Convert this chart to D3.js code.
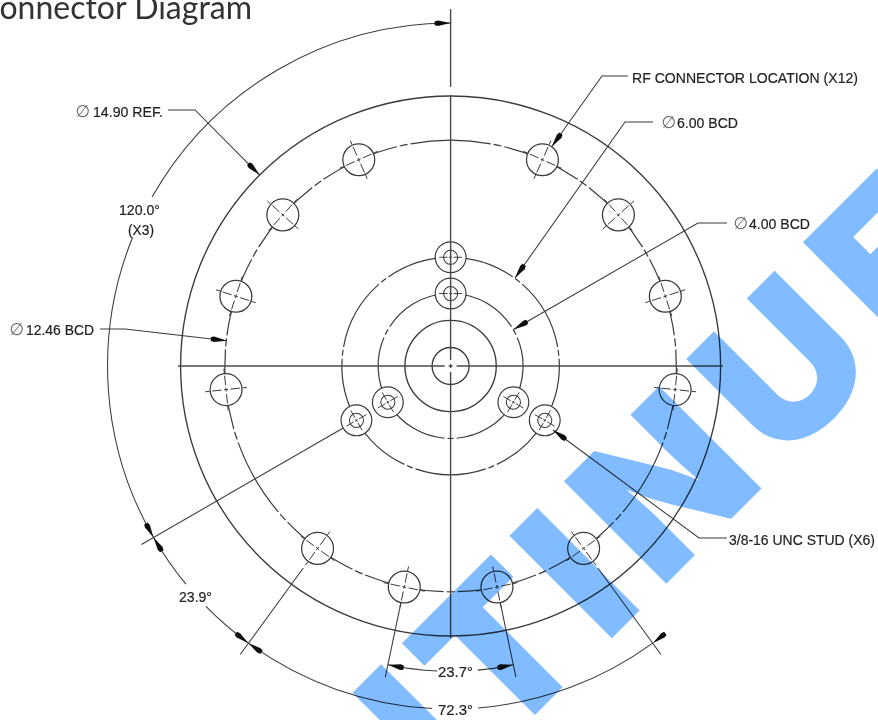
<!DOCTYPE html>
<html><head><meta charset="utf-8">
<script src="https://cdn.jsdelivr.net/npm/d3@7"></script>
<style>
html,body{margin:0;padding:0;background:#fff;overflow:hidden}
svg{display:block}
</style></head><body>
<svg id="c" width="878" height="720" viewBox="0 0 878 720"></svg>
<script>
// ---- values (inches / degrees clockwise from 12 o'clock)
const flangeDiameters = [14.90, 2.52, 1.02];       // solid circles
const boltCircleDiameters = [12.46, 6.00, 4.00];   // chain-line circles
const rfAngles = [24,48,72,96,143.9,168.15,-168.15,-143.9,-96,-72,-48,-24];
const studAngles = [0,120,240];
const studCircleDiameters = [6.00,4.00];
const rfDiameter = 0.88, studOuterDiameter = 0.85, studInnerDiameter = 0.39;
const chainBreaks12 = [12,36,60,84,108,132,156,180,204,228,252,276,300,324,348];
const chainBreaks6 = [38,83,158,202,277,322];
const chainBreaks4 = [62,180,298];
const dimensionRingDiameters = [18.93,16.85];
const titleText = "Connector Diagram";
const watermarkText = "DISCONTINUED";
const phi = "\u2205";
const labelRF = "RF CONNECTOR LOCATION (X12)";
const label6 = "6.00 BCD", label4 = "4.00 BCD", label12 = "12.46 BCD", labelRef = "14.90 REF.";
const labelStud = "3/8-16 UNC STUD (X6)";
const label120 = "120.0\u00B0", labelX3 = "(X3)", label239 = "23.9\u00B0", label237 = "23.7\u00B0", label723 = "72.3\u00B0";

// ---- scales
const cx = 450.6, cy = 366;
const rScale = d3.scaleLinear().domain([0,14.9]).range([0,270]);   // diameter -> px radius
const aScale = d3.scaleLinear().domain([0,360]).range([0,2*Math.PI]);
const pt = (deg,r) => [cx + r*Math.sin(aScale(deg)), cy - r*Math.cos(aScale(deg))];
const ink = "#3a3a3a";
const svg = d3.select("#c");
const defs = svg.append("defs");
defs.append("filter").attr("id","soft")
  .attr("filterUnits","userSpaceOnUse").attr("x",0).attr("y",0).attr("width",878).attr("height",720)
  .append("feGaussianBlur").attr("stdDeviation",0.4);
const art = svg.append("g").attr("filter","url(#soft)")
  .attr("fill","none").attr("stroke",ink).attr("stroke-width",1.2);

const line = d3.line();
const seg = (g,a,b,w) => g.append("path").attr("d",line([a,b])).attr("stroke-width",w||null);
function arcPath(r,a0,a1){
  const p = d3.path();
  const off = -Math.PI/2;
  p.arc(cx,cy,r,aScale(a0)+off,aScale(a1)+off,a1<a0);
  return p.toString();
}
function arrow(g,tip,towards,len=16,hw=2.8){
  const dx=towards[0]-tip[0], dy=towards[1]-tip[1], n=Math.hypot(dx,dy), ux=dx/n, uy=dy/n;
  const b=[tip[0]+ux*len,tip[1]+uy*len], m=[tip[0]+ux*len*.8,tip[1]+uy*len*.8];
  g.append("path").attr("fill","#111").attr("stroke","none").attr("d",line([
    tip,[m[0]-uy*hw,m[1]+ux*hw],[b[0]-uy*hw*.7,b[1]+ux*hw*.7],[b[0]+uy*hw*.7,b[1]-ux*hw*.7],[m[0]+uy*hw,m[1]-ux*hw]
  ])+"Z");
}

// ---- solid circles
art.selectAll("circle.f").data(flangeDiameters).join("circle").attr("class","f")
  .attr("cx",cx).attr("cy",cy).attr("r",d=>rScale(d)).attr("stroke-width",1.35);

// ---- chain-line bolt circles
function chain(diam,breaks,shortPx,gapPx){
  const r=rScale(diam), dShort=shortPx/2/r*180/Math.PI, dGap=gapPx/r*180/Math.PI;
  const s=[...breaks].sort((a,b)=>a-b);
  s.forEach((a,i)=>{
    const next=i<s.length-1?s[i+1]:s[0]+360;
    art.append("path").attr("d",arcPath(r,a-dShort,a+dShort));
    art.append("path").attr("d",arcPath(r,a+dShort+dGap,next-dShort-dGap));
  });
}
chain(boltCircleDiameters[0],chainBreaks12,8,3);
chain(boltCircleDiameters[1],chainBreaks6,6,3);
chain(boltCircleDiameters[2],chainBreaks4,6,3);

// ---- RF holes
const rfR=rScale(rfDiameter), bcd12=rScale(boltCircleDiameters[0]);
rfAngles.forEach(a=>{
  const c=pt(a,bcd12), g=art.append("g");
  g.append("circle").attr("cx",c[0]).attr("cy",c[1]).attr("r",rfR).attr("fill","#fff").attr("stroke-width",1.25);
  const t=aScale(a);
  [[Math.sin(t),-Math.cos(t)],[Math.cos(t),Math.sin(t)]].forEach(([ux,uy])=>{
    [1,-1].forEach(s=>{
      seg(g,[c[0]+s*ux*4.5,c[1]+s*uy*4.5],[c[0]+s*ux*(rfR-2),c[1]+s*uy*(rfR-2)],1);
      seg(g,[c[0]+s*ux*(rfR+.5),c[1]+s*uy*(rfR+.5)],[c[0]+s*ux*(rfR+5),c[1]+s*uy*(rfR+5)],1);
    });
    seg(g,[c[0]-ux*2,c[1]-uy*2],[c[0]+ux*2,c[1]+uy*2],1);
  });
});

// ---- studs
studCircleDiameters.forEach(d=>studAngles.forEach(a=>{
  const c=pt(a,rScale(d)), g=art.append("g");
  g.append("circle").attr("cx",c[0]).attr("cy",c[1]).attr("r",rScale(studOuterDiameter)).attr("fill","#fff");
  g.append("circle").attr("cx",c[0]).attr("cy",c[1]).attr("r",rScale(studInnerDiameter)).attr("stroke-width",1.05);
  const t=aScale(a);
  [[Math.sin(t),-Math.cos(t)],[Math.cos(t),Math.sin(t)]].forEach(([ux,uy])=>{
    [1,-1].forEach(s=>seg(g,[c[0]+s*ux*3,c[1]+s*uy*3],[c[0]+s*ux*11.5,c[1]+s*uy*11.5],.95));
    seg(g,[c[0]-ux*1.6,c[1]-uy*1.6],[c[0]+ux*1.6,c[1]+uy*1.6],.95);
  });
}));

// ---- centre lines
const cl = art.append("g").attr("stroke","#4a4a4a").attr("stroke-width",1.4);
seg(cl,[cx,9],[cx,87]); seg(cl,[cx,95],[cx,cy-6]); seg(cl,[cx,cy+6],[cx,638]);
seg(cl,[178,cy],[cx-6,cy]); seg(cl,[cx+6,cy],[723,cy]);
seg(cl,[cx-2,cy],[cx+2,cy]); seg(cl,[cx,cy-2],[cx,cy+2]);

// ---- extension lines
const rOut=rScale(dimensionRingDiameters[0]), rIn=rScale(dimensionRingDiameters[1]);
const ext = art.append("g").attr("stroke-width",1.05);
seg(ext,pt(240,124),pt(240,357));
seg(ext,pt(-143.9,250),pt(-143.9,357));
seg(ext,pt(143.9,250),pt(143.9,357));
seg(ext,pt(-168.15,242),pt(-168.15,318));
seg(ext,pt(168.15,242),pt(168.15,318));

// ---- dimension arcs
const da = art.append("g").attr("stroke-width",1.05);
[[0,-60.5],[-68,-120],[-120,-129.5],[-134.5,-143.9],[143.9,175.4],[183.1,216.1]]
  .forEach(([a,b])=>da.append("path").attr("d",arcPath(rOut,a,b)));
[[168.15,174.9],[182.5,191.85]].forEach(([a,b])=>da.append("path").attr("d",arcPath(rIn,a,b)));
const arcArrow=(r,a,dir)=>arrow(art,pt(a,r),pt(a+dir*3,r));
arcArrow(rOut,0,-1); arcArrow(rOut,-120,1); arcArrow(rOut,-120,-1);
arcArrow(rOut,-143.9,1); arcArrow(rOut,-143.9,-1); arcArrow(rOut,143.9,-1);
arcArrow(rIn,168.15,1); arcArrow(rIn,-168.15,-1);

// ---- leaders
function leader(points){
  art.append("path").attr("d",line(points)).attr("stroke-width",1.05);
  const n=points.length;
  arrow(art,points[n-1],points[n-2]);
}
const rOuter=rScale(14.9);
leader([[168,110],[195,110],pt(-45,rOuter)]);
leader([[100,329],[125,329],[226.8,340.7]]);
leader([[628,76],[602,76],[551.7,146.7]]);
leader([[653,122],[625,122],[515,278]]);
leader([[727,223],[698,223],[513.5,329.5]]);
leader([[727,538],[699,538],[553,430]]);

// ---- text
const tx = svg.append("g").attr("filter","url(#soft)")
  .attr("font-family","'Liberation Sans',Arial,sans-serif").attr("font-size",15.5).attr("fill","#222")
  .attr("stroke","#222").attr("stroke-width",0.2);
function label(str,x,y,w,anchor){
  tx.append("text").attr("x",x).attr("y",y).attr("text-anchor",anchor||"start")
    .attr("textLength",w).attr("lengthAdjust","spacingAndGlyphs").text(str);
}
function phiLabel(str,px,x,y,w){
  const t=tx.append("text").attr("y",y);
  t.append("tspan").attr("x",px).attr("font-family","'DejaVu Sans'").attr("font-size",17)
    .attr("fill","#666").attr("stroke","none").text(phi);
  t.append("tspan").attr("x",x).attr("textLength",w).attr("lengthAdjust","spacingAndGlyphs").text(str);
}
label(labelRF,632,82.5,226);
phiLabel(labelRef,75.5,93,116.5,70);
phiLabel(label12,9.5,26,335,68);
phiLabel(label6,661.5,677,128,61);
phiLabel(label4,733.5,749,228.5,61);
label(labelStud,729,544.5,146);
label(label120,119,214.5,41);
label(labelX3,128,234.5,26);
label(label239,179,601.5,33);
label(label237,438,676.5,35);
label(label723,438,714.5,35);

// ---- title
svg.append("text").attr("x",252).attr("y",18.5).attr("text-anchor","end")
  .attr("font-family","Lato,sans-serif").attr("font-size",32).attr("fill","#333").text(titleText);

// ---- watermark: per-letter advance positions along the 45-degree baseline
const watermarkX = [-1150,-1000,-950,-800,-620,-344,-176,-28,49,222,387,537];
svg.append("text").attr("transform","translate(625,625) rotate(-45)")
  .attr("x",watermarkX.join(" ")).attr("y",0)
  .attr("font-family","Inter,sans-serif").attr("font-weight",900).attr("font-size",199)
  .attr("fill","#80bcff").style("mix-blend-mode","multiply").text(watermarkText);
</script>
</body></html>
